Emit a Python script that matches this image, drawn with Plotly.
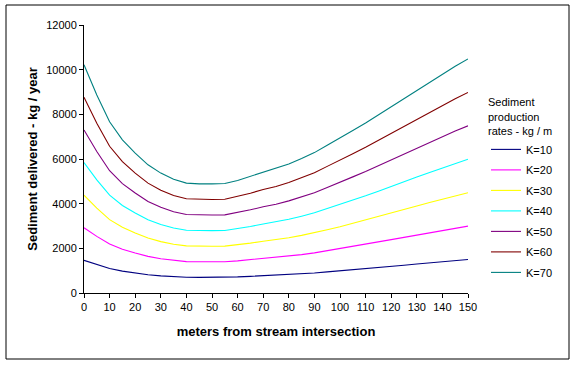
import plotly.graph_objects as go

distance_m = [0, 5, 10, 15, 20, 25, 30, 35, 40, 45, 50, 55, 60, 65, 70, 75,
              80, 85, 90, 95, 100, 105, 110, 115, 120, 125, 130, 135, 140, 145, 150]

k10 = [1460, 1267, 1095, 980, 895, 820, 767, 727, 703, 698, 698, 700, 720, 745, 772, 795,
       825, 860, 898, 945, 990, 1040, 1088, 1140, 1195, 1245, 1298, 1350, 1400, 1450, 1497]
k20 = [2920, 2534, 2190, 1960, 1790, 1640, 1534, 1454, 1406, 1396, 1396, 1400, 1440, 1490, 1544, 1590,
       1650, 1720, 1796, 1890, 1980, 2080, 2176, 2280, 2390, 2490, 2596, 2700, 2800, 2900, 2994]
k30 = [4380, 3801, 3285, 2940, 2685, 2460, 2301, 2181, 2109, 2094, 2094, 2100, 2160, 2235, 2316, 2385,
       2475, 2580, 2694, 2835, 2970, 3120, 3264, 3420, 3585, 3735, 3894, 4050, 4200, 4350, 4491]
k40 = [5840, 5068, 4380, 3920, 3580, 3280, 3068, 2908, 2812, 2792, 2792, 2800, 2880, 2980, 3088, 3180,
       3300, 3440, 3592, 3780, 3960, 4160, 4352, 4560, 4780, 4980, 5192, 5400, 5600, 5800, 5988]
k50 = [7300, 6335, 5475, 4900, 4475, 4100, 3835, 3635, 3515, 3490, 3490, 3500, 3600, 3725, 3860, 3975,
       4125, 4300, 4490, 4725, 4950, 5200, 5440, 5700, 5975, 6225, 6490, 6750, 7000, 7250, 7485]
k60 = [8760, 7602, 6570, 5880, 5370, 4920, 4602, 4362, 4218, 4188, 4188, 4200, 4320, 4470, 4632, 4770,
       4950, 5160, 5388, 5670, 5940, 6240, 6528, 6840, 7170, 7470, 7788, 8100, 8400, 8700, 8982]
k70 = [10220, 8869, 7665, 6860, 6265, 5740, 5369, 5089, 4921, 4886, 4886, 4900, 5040, 5215, 5404, 5565,
       5775, 6020, 6286, 6615, 6930, 7280, 7616, 7980, 8365, 8715, 9086, 9450, 9800, 10150, 10479]

series_names = ["K=10", "K=20", "K=30", "K=40", "K=50", "K=60", "K=70"]
series_values = [k10, k20, k30, k40, k50, k60, k70]
series_colors = ["#000080", "#FF00FF", "#FFFF00", "#00FFFF", "#800080", "#800000", "#008080"]

x_ticks = [0, 10, 20, 30, 40, 50, 60, 70, 80, 90, 100, 110, 120, 130, 140, 150]
y_ticks = [0, 2000, 4000, 6000, 8000, 10000, 12000]

FONT = "Liberation Sans, Arial, sans-serif"

fig = go.Figure()
for name, vals, col in zip(series_names, series_values, series_colors):
    fig.add_trace(go.Scatter(x=distance_m, y=vals, mode="lines", name=name,
                             legendgroup=name,
                             line=dict(color=col, width=1.1)))

L, R, T, B = 84, 109, 25, 73
W, H = 577, 366
pw, ph = W - L - R, H - T - B


def px_x(p):
    return (p - L) / pw


def px_y(p):
    return (H - B - p) / ph


fig.update_layout(
    width=W, height=H,
    margin=dict(l=L, r=R, t=T, b=B, pad=0, autoexpand=False),
    paper_bgcolor="white", plot_bgcolor="white",
    font=dict(family=FONT, size=11, color="black"),
    showlegend=True,
    legend=dict(
        title=dict(text="Sediment<br>production<br>rates - kg / m", side="top",
                   font=dict(family=FONT, size=11, color="black")),
        x=px_x(486), xanchor="left", y=px_y(92), yanchor="top",
        bgcolor="rgba(0,0,0,0)", borderwidth=0,
        font=dict(family=FONT, size=11, color="black"),
        itemwidth=30, tracegroupgap=1.5,
    ),
    xaxis=dict(
        range=[0, 150], tickvals=x_ticks, ticktext=[str(v) for v in x_ticks],
        showline=True, linecolor="black", linewidth=1,
        ticks="outside", ticklen=4, tickcolor="black", tickwidth=1,
        showgrid=False, zeroline=False,
        tickfont=dict(family=FONT, size=11, color="black"),
        title=dict(text="<b>meters from stream intersection</b>",
                   font=dict(family=FONT, size=13, color="black"), standoff=14),
    ),
    yaxis=dict(
        range=[0, 12000], tickvals=y_ticks, ticktext=[str(v) for v in y_ticks],
        showline=True, linecolor="black", linewidth=1,
        ticks="outside", ticklen=4, tickcolor="black", tickwidth=1,
        showgrid=False, zeroline=False,
        tickfont=dict(family=FONT, size=11, color="black"),
        title=dict(text="<b>Sediment delivered - kg / year</b>",
                   font=dict(family=FONT, size=13, color="black"), standoff=5),
    ),
    shapes=[dict(type="rect", xref="paper", yref="paper",
                 x0=px_x(6), x1=px_x(569), y0=px_y(359), y1=px_y(5),
                 line=dict(color="black", width=1), fillcolor="rgba(0,0,0,0)", layer="below")],
)

fig.write_html("out.html", config={"displayModeBar": False},
               post_script="document.body.style.margin='0';")
